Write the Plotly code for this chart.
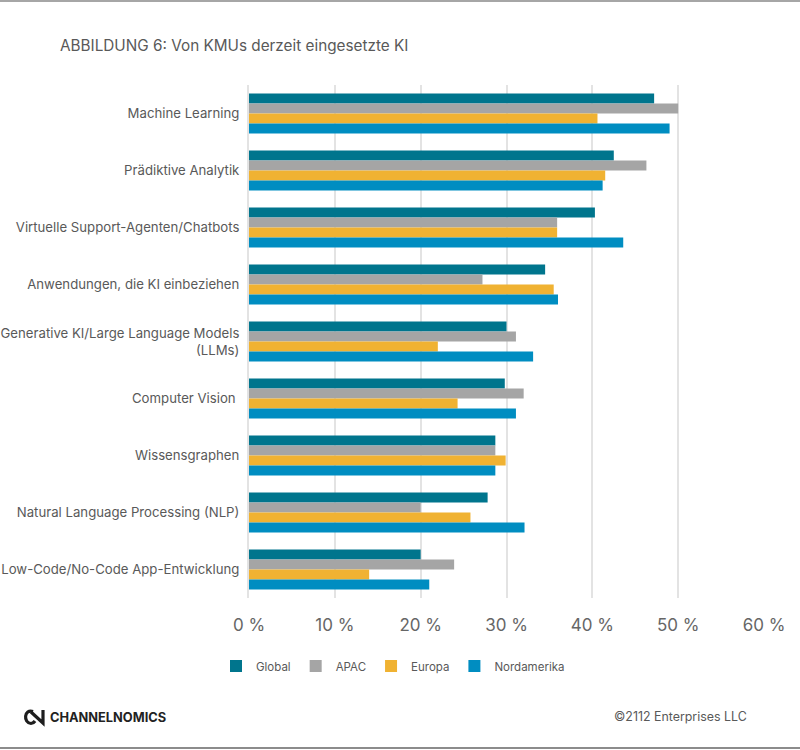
import plotly.graph_objects as go

categories = ["Machine Learning", "Prädiktive Analytik", "Virtuelle Support-Agenten/Chatbots",
              "Anwendungen, die KI einbeziehen", "Generative KI/Large Language Models<br>(LLMs)",
              "Computer Vision ", "Wissensgraphen", "Natural Language Processing (NLP)",
              "Low-Code/No-Code App-Entwicklung"]
global_vals = [47.2, 42.5, 40.3, 34.5, 30.0, 29.8, 28.7, 27.8, 20.0]
apac_vals = [50.0, 46.3, 35.9, 27.2, 31.1, 32.0, 28.7, 20.0, 23.9]
europa_vals = [40.6, 41.5, 35.9, 35.5, 22.0, 24.3, 29.9, 25.8, 14.0]
nordamerika_vals = [49.0, 41.2, 43.6, 36.0, 33.1, 31.1, 28.7, 32.1, 21.0]
x_ticks = [0, 10, 20, 30, 40, 50, 60]
x_labels = ["0 %", "10 %", "20 %", "30 %", "40 %", "50 %", "60 %"]

FONT = "Inter"
TEXT = "#595959"
W, H = 800, 750
L, R, T, B = 249, 36, 85, 152


def px(x):
    return (x - L) / (W - L - R)


def py(y):
    return 1 - (y - T) / (H - T - B)


def logo_path(points):
    out = []
    for cmd, *xy in points:
        vals = []
        for i in range(0, len(xy), 2):
            vals.append(f"{px(xy[i]):.5f},{py(xy[i + 1]):.5f}")
        out.append(cmd + " ".join(vals))
    return " ".join(out)


fig = go.Figure()
for name, vals, col in [("Global", global_vals, "#00758D"), ("APAC", apac_vals, "#A5A5A5"),
                        ("Europa", europa_vals, "#F0B232"), ("Nordamerika", nordamerika_vals, "#008DC1")]:
    fig.add_trace(go.Bar(name=name, y=categories, x=vals, orientation="h", marker=dict(color=col, line_width=0)))

shapes = [
    dict(type="line", xref="paper", yref="paper", x0=px(0), x1=px(800), y0=py(1), y1=py(1),
         line=dict(color="#A6A6A6", width=2)),
    dict(type="line", xref="paper", yref="paper", x0=px(0), x1=px(800), y0=py(748), y1=py(748),
         line=dict(color="#8C8C8C", width=2)),
    dict(type="path", xref="paper", yref="paper",
         path=logo_path([("M", 33, 711.5), ("C", 24, 708.5, 23, 723, 31, 723.5), ("C", 33, 723.5, 34, 722.5, 35, 721)]),
         line=dict(color="#1E1E1E", width=3.2)),
    dict(type="path", xref="paper", yref="paper",
         path=logo_path([("M", 31, 712), ("L", 43, 723), ("L", 43, 710)]),
         line=dict(color="#1E1E1E", width=3.2)),
]

fig.update_layout(
    width=W, height=H, autosize=False, paper_bgcolor="white", plot_bgcolor="white",
    margin=dict(l=L, r=R, t=T, b=B), barmode="group", bargap=0.3, bargroupgap=0,
    font=dict(family=FONT, color=TEXT),
    xaxis=dict(range=[0, 60], tickvals=x_ticks, ticktext=x_labels, showgrid=True,
               gridcolor="#E3E3E3", gridwidth=2, zeroline=False, showline=False,
               tickfont=dict(size=17, color="#666666"), ticks="", ticklabelstandoff=15),
    yaxis=dict(autorange="reversed", showgrid=False, zeroline=False, showline=True, linecolor="#E3E3E3",
               linewidth=2, tickfont=dict(size=13.2, color=TEXT), ticks="", ticklabelstandoff=5),
    legend=dict(orientation="h", xanchor="center", x=px(393), yanchor="middle", y=py(666),
                font=dict(size=11.5, color=TEXT), itemwidth=30,
                traceorder="normal", bgcolor="rgba(0,0,0,0)"),
    shapes=shapes,
    annotations=[
        dict(text="ABBILDUNG 6: Von KMUs derzeit eingesetzte KI", xref="paper", yref="paper", x=px(58), y=py(45),
             xanchor="left", yanchor="middle", showarrow=False, font=dict(size=15.3, color=TEXT)),
        dict(text="©2112 Enterprises LLC", xref="paper", yref="paper", x=px(749), y=py(716),
             xanchor="right", yanchor="middle", showarrow=False, font=dict(size=12.4, color=TEXT)),
        dict(text="<b>CHANNELNOMICS</b>", xref="paper", yref="paper", x=px(48), y=py(717),
             xanchor="left", yanchor="middle", showarrow=False, font=dict(size=12.8, color="#222222")),
    ],
)
fig.update_xaxes(automargin=False)
fig.update_yaxes(automargin=False)
fig.write_html("out.html", post_script="document.body.style.margin='0';", config=dict(displayModeBar=False))
